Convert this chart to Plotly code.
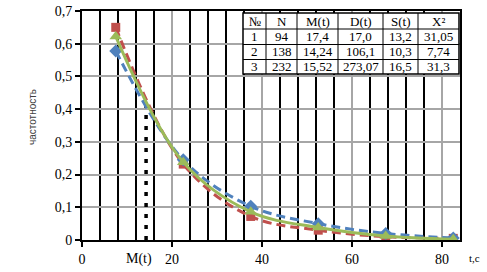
import plotly.graph_objects as go

t = [7.5, 22.5, 37.5, 52.5, 67.5, 82.5]
s1 = [0.65, 0.232, 0.072, 0.03, 0.01, 0.005]
s2 = [0.578, 0.245, 0.103, 0.05, 0.02, 0.006]
s3 = [0.622, 0.238, 0.086, 0.038, 0.012, 0.002]
m_t = 14.24
m_top = 0.434

tbl_header = ["№", "N", "M(t)", "D(t)", "S(t)", "X²"]
tbl_rows = [
    ["1", "94", "17,4", "17,0", "13,2", "31,05"],
    ["2", "138", "14,24", "106,1", "10,3", "7,74"],
    ["3", "232", "15,52", "273,07", "16,5", "31,3"],
]

FONT = "Liberation Serif"
RED, BLUE, GREEN = "#C0504D", "#4F81BD", "#9BBB59"

# page geometry (body margin removed via post_script)
W, H = 487, 272
PX0, PX1, PY0, PY1 = 82, 460, 11, 240  # plot area in page pixels
L, T, R, B = PX0, PY0, W - PX1, H - PY1
PW, PH = PX1 - PX0, PY1 - PY0


def px(xp):
    return (xp - PX0) / PW


def py(yp):
    return (PY1 - yp) / PH


fig = go.Figure()
fig.add_trace(go.Scatter(x=[m_t, m_t], y=[0, m_top], mode="lines",
                         line=dict(color="black", width=3.5, dash="4px,7px"),
                         showlegend=False, hoverinfo="skip"))
fig.add_trace(go.Scatter(x=t, y=s1, mode="lines+markers",
                         line=dict(color=RED, width=3, dash="9px,5px", shape="spline"),
                         marker=dict(symbol="square", size=9, color=RED), showlegend=False))
fig.add_trace(go.Scatter(x=t, y=s2, mode="lines+markers",
                         line=dict(color=BLUE, width=3, dash="9px,5px", shape="spline"),
                         marker=dict(symbol="diamond", size=10, color=BLUE), showlegend=False))
fig.add_trace(go.Scatter(x=t, y=s3, mode="lines+markers",
                         line=dict(color=GREEN, width=3, shape="spline"),
                         marker=dict(symbol="triangle-up", size=11, color=GREEN), showlegend=False))

# table drawn with shapes + annotations
col_edges = [243, 266, 297, 338, 383, 418, 459]
row_edges = [13, 29, 44.5, 59.5, 74]
shapes = [dict(type="rect", xref="paper", yref="paper",
               x0=px(col_edges[0]), x1=px(col_edges[-1]), y0=py(row_edges[-1]), y1=py(row_edges[0]),
               fillcolor="white", line=dict(color="black", width=1.5), layer="above")]
for ce in col_edges[1:-1]:
    shapes.append(dict(type="line", xref="paper", yref="paper", x0=px(ce), x1=px(ce),
                       y0=py(row_edges[-1]), y1=py(row_edges[0]),
                       line=dict(color="black", width=1), layer="above"))
for re_ in row_edges[1:-1]:
    shapes.append(dict(type="line", xref="paper", yref="paper", x0=px(col_edges[0]), x1=px(col_edges[-1]),
                       y0=py(re_), y1=py(re_), line=dict(color="black", width=1), layer="above"))

all_rows = [tbl_header] + tbl_rows
for ri, row in enumerate(all_rows):
    yc = (row_edges[ri] + row_edges[ri + 1]) / 2
    for ci, txt in enumerate(row):
        xc = (col_edges[ci] + col_edges[ci + 1]) / 2
        fig.add_annotation(x=px(xc), y=py(yc), xref="paper", yref="paper", text=txt,
                           showarrow=False, xanchor="center", yanchor="middle",
                           font=dict(family=FONT, size=13, color="black"))

fig.add_annotation(x=12.7, y=0, xref="x", yref="paper", yanchor="top", yshift=-9,
                   text="M(t)", showarrow=False, font=dict(family=FONT, size=14, color="black"))
fig.add_annotation(x=px(474), y=py(258), xref="paper", yref="paper", xanchor="center", yanchor="middle",
                   text="t,c", showarrow=False, font=dict(family=FONT, size=11, color="black"))
fig.add_annotation(x=px(32), y=py(117), xref="paper", yref="paper", xanchor="center", yanchor="middle",
                   text="частотность", textangle=-90, showarrow=False,
                   font=dict(family="Liberation Sans", size=10, color="#404040"))

fig.update_layout(
    width=W, height=H,
    margin=dict(l=L, r=R, t=T, b=B, pad=0, autoexpand=False),
    paper_bgcolor="white", plot_bgcolor="white",
    separators=", ",
    font=dict(family=FONT, size=14, color="black"),
    shapes=shapes,
    xaxis=dict(range=[0, 84], tickvals=[0, 20, 40, 60, 80], ticks="outside", ticklen=5,
               tickcolor="black", tickwidth=1.5, automargin=False, ticklabeloverflow="allow",
               showgrid=True, gridcolor="#A6A6A6", gridwidth=1.5,
               minor=dict(dtick=4, tick0=0, showgrid=True, gridcolor="black", gridwidth=2, ticks=""),
               showline=True, linecolor="black", linewidth=2, mirror=True, zeroline=False,
               tickfont=dict(family=FONT, size=14)),
    yaxis=dict(range=[0, 0.7], dtick=0.1, ticks="outside", ticklen=5, tickcolor="black",
               tickwidth=1.5, automargin=False, ticklabeloverflow="allow",
               showgrid=True, gridcolor="#A6A6A6", gridwidth=1.5,
               showline=True, linecolor="black", linewidth=2, mirror=True, zeroline=False,
               tickfont=dict(family=FONT, size=14)),
)

fig.write_html("out.html", config={"displayModeBar": False},
               post_script="document.body.style.margin='0';document.body.style.overflow='hidden';")
